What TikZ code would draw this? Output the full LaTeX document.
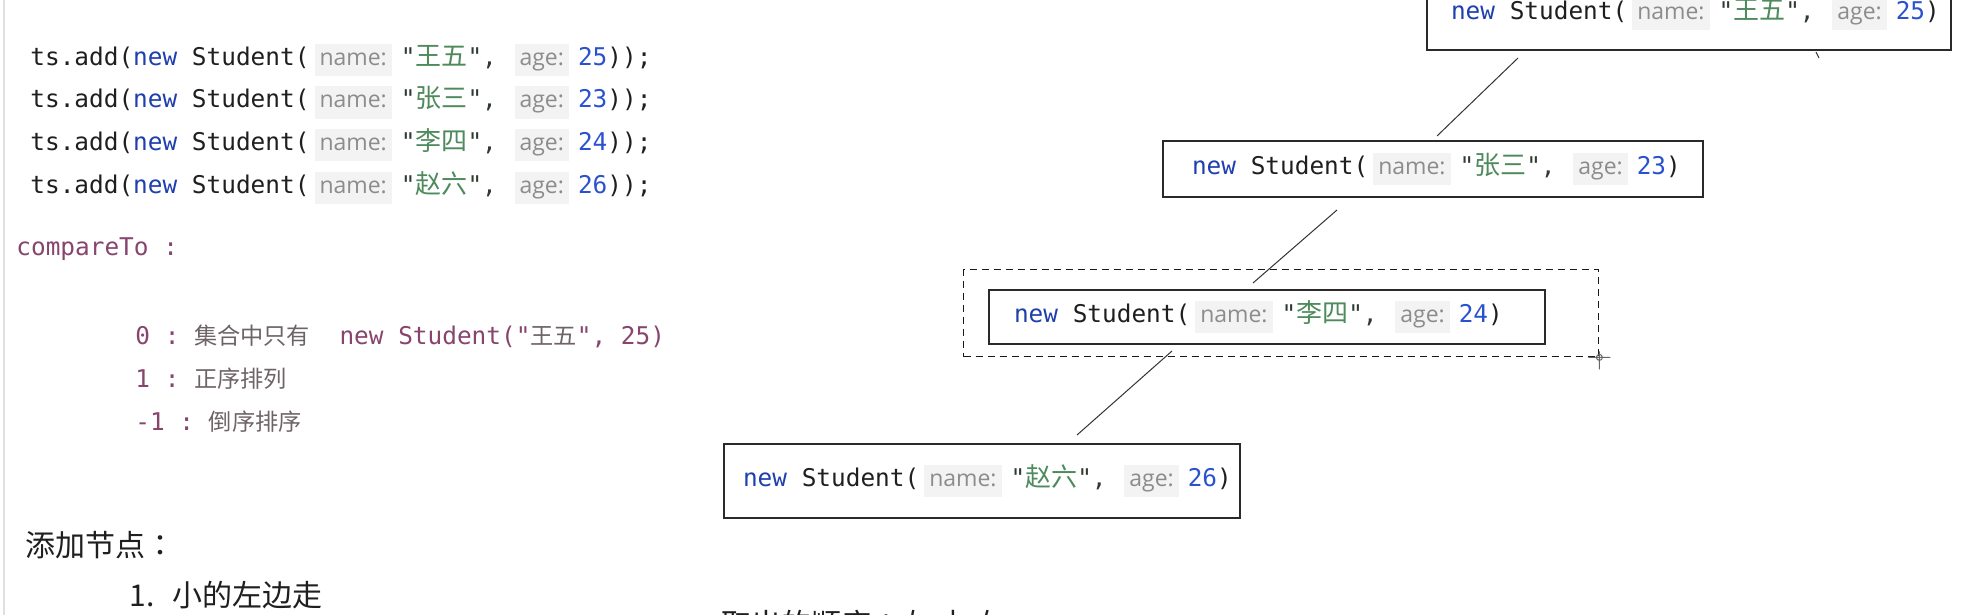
\documentclass[tikz,border=0pt]{standalone}
\usepackage{fontspec}
\setmonofont{DejaVu Sans Mono}
\newfontfamily\hintfont{Open Sans}
\newfontfamily\cjk{Noto Sans CJK SC}
\newfontfamily\cjktc{Noto Sans CJK TC}
\usetikzlibrary{positioning}
\definecolor{codefg}{HTML}{1F1F1F}
\definecolor{kw}{HTML}{1F3FAE}
\definecolor{quote}{HTML}{2F3A31}
\definecolor{str}{HTML}{4E8A5C}
\definecolor{num}{HTML}{2A52D0}
\definecolor{hintfg}{HTML}{8C8C8C}
\definecolor{hintbg}{HTML}{F3F3F3}
\definecolor{notefg}{HTML}{87456E}
\definecolor{notecjk}{HTML}{6E6468}
\definecolor{boxline}{HTML}{2A2A2A}
\newcommand{\hint}[1]{{\setlength{\fboxsep}{2.5pt}\colorbox{hintbg}{\hintfont\fontsize{11.5}{13}\selectfont\color{hintfg}\vphantom{Ag}#1}}}
\newcommand{\stu}[2]{\mbox{{\color{kw}new} Student(\hspace{2.5pt}\hint{name:}\hspace{4.5pt}{\color{quote}"{\cjk\fontsize{13}{14}\selectfont\color{str}#1}",}\ \hspace{1.5pt}\hint{age:}\hspace{4.5pt}{\color{num}#2})}}
\newcommand{\cjkn}{\cjk\fontsize{11.6}{14}\selectfont\color{notecjk}}

\begin{document}
\begin{tikzpicture}[x=0.5pt, y=-0.5pt,
  code/.style={anchor=west, inner sep=0pt, font=\ttfamily\fontsize{12.2}{14}\selectfont, text=codefg},
  note/.style={anchor=west, inner sep=0pt, font=\ttfamily\fontsize{12.2}{14}\selectfont, text=notefg},
  plain/.style={anchor=west, inner sep=0pt, font=\cjk\fontsize{15}{17}\selectfont, text=codefg},
  stubox/.style={code, draw=boxline, line width=1pt, anchor=north west, inner ysep=0pt},
  selbox/.style={draw=black!90, dash pattern=on 3.5pt off 2.5pt, line width=0.7pt, inner sep=0pt, anchor=north west},
  link/.style={draw=black!80, line width=0.5pt},
  cursor/.style={draw=black!60, line width=0.5pt}]
  \useasboundingbox (0,0) rectangle (1983,615);
  \clip (0,0) rectangle (1983,615);
  \fill[white] (0,0) rectangle (1983,615);
  \draw[black!12, line width=0.75pt] (4,0) -- (4,615);
  \foreach \nm/\ag [count=\i] in {王五/25, 张三/23, 李四/24, 赵六/26}
    \node[code] (add\i) at (30, {60+42.5*(\i-1)}) {ts.add(\stu{\nm}{\ag});};
  \node[note] (cmp) at (16,249) {compareTo :};
  \node[note] (res0) at (135,336) {0 : {\cjkn 集合中只有}\ \ new Student("{\cjkn 王五}", 25)};
  \node[note] (res1) at (135,379) {1 : {\cjkn 正序排列}};
  \node[note] (res2) at (135,422) {-1 : {\cjkn 倒序排序}};
  \node[plain] (addhd) at (25,545) {添加节点{\cjktc ：}};
  \node[plain] (rule1) at (129,595) {1.\hspace{9pt}小的左边走};
  \node[plain] (takeout) at (721,624) {取出的顺序{\cjktc ：}左 中 右};

  \node[stubox, inner xsep=12pt, minimum height=36pt] (wangwu) at (1426,-23) {\makebox[238pt][l]{\stu{王五}{25}}};
  \node[stubox, inner xsep=14.5pt, minimum height=28pt] (zhangsan) at (1162,140) {\makebox[241pt][l]{\stu{张三}{23}}};
  \node[selbox, minimum width=317.5pt, minimum height=43.5pt] (sel) at (963,269) {};
  \node[stubox, inner xsep=12.5pt, minimum height=27pt] (lisi) at (988,289) {\makebox[253pt][l]{\stu{李四}{24}}};
  \node[stubox, inner xsep=9.5pt, minimum height=37pt] (zhaoliu) at (723,443) {\makebox[239pt][l]{\stu{赵六}{26}}};
  \draw[link] ([xshift=46pt, yshift=-3.5pt]wangwu.south west) -- ([xshift=137.5pt, yshift=2pt]zhangsan.north west);
  \draw[link] ([xshift=87.5pt, yshift=-6pt]zhangsan.south west) -- ([xshift=132.5pt, yshift=3pt]lisi.north west);
  \draw[link] ([xshift=92pt, yshift=-3pt]lisi.south west) -- ([xshift=177pt, yshift=4pt]zhaoliu.north west);
  \draw[link] ([xshift=195pt, yshift=-0.5pt]wangwu.south west) -- ++(1.5pt,-3pt);
  \draw[cursor] (sel.south east) circle (1.5pt)
    ([xshift=-5.5pt]sel.south east) -- ([xshift=5.5pt]sel.south east)
    ([yshift=3pt]sel.south east) -- ([yshift=-6pt]sel.south east);
\end{tikzpicture}
\end{document}
